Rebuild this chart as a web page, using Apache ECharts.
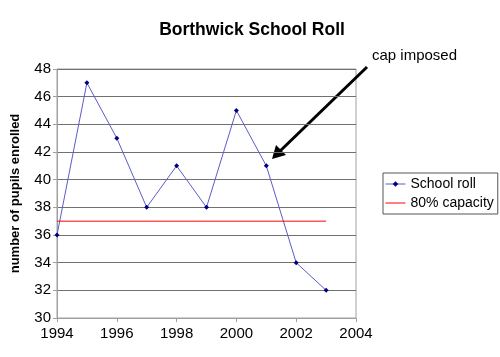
<!DOCTYPE html>
<html><head><meta charset="utf-8">
<script src="https://cdn.jsdelivr.net/npm/echarts@6/dist/echarts.min.js"></script>
<style>html,body{margin:0;padding:0;background:#fff}#c{width:500px;height:357px}</style>
</head><body><div id="c"></div>
<script>
const years = [1994, 1995, 1996, 1997, 1998, 1999, 2000, 2001, 2002, 2003];
const schoolRoll = [36, 47, 43, 38, 41, 38, 45, 41, 34, 32];
const capacityYears = [1994, 2003];
const capacity = [37, 37];
const xTicks = {min: 1994, max: 2004, interval: 2};
const yTicks = {min: 30, max: 48, interval: 2};

const chart = echarts.init(document.getElementById('c'), null, {renderer: 'canvas'});
const font = 'Liberation Sans, Arial, sans-serif';
chart.setOption({
  animation: false,
  backgroundColor: '#fff',
  title: {
    text: 'Borthwick School Roll', left: 247, top: 16, textAlign: 'center',
    textStyle: {fontFamily: font, fontSize: 17.5, fontWeight: 'bold', color: '#000'}
  },
  grid: {left: 57, right: 144, top: 69, bottom: 39, show: true, borderColor: '#a0a0a0', borderWidth: 1},
  legend: {
    orient: 'vertical', left: 383, top: 173, itemGap: 5, padding: [4, 4, 4, 2],
    borderColor: '#555', borderWidth: 1, itemWidth: 20, itemHeight: 7,
    textStyle: {fontFamily: font, fontSize: 14, color: '#000'},
    lineStyle: {width: 1},
    data: [
      {name: 'School roll'},
      {name: '80% capacity', itemStyle: {opacity: 0}}
    ]
  },
  xAxis: {
    type: 'value', min: xTicks.min, max: xTicks.max, interval: xTicks.interval,
    axisLine: {lineStyle: {color: '#a0a0a0'}},
    axisTick: {show: true, length: 4, lineStyle: {color: '#a0a0a0'}},
    splitLine: {show: false},
    axisLabel: {fontFamily: font, fontSize: 15, color: '#000', margin: 8, formatter: v => String(v)}
  },
  yAxis: {
    type: 'value', min: yTicks.min, max: yTicks.max, interval: yTicks.interval,
    name: 'number of pupils enrolled', nameLocation: 'middle', nameGap: 35,
    nameTextStyle: {fontFamily: font, fontSize: 13, fontWeight: 'bold', color: '#000'},
    axisLine: {show: true, lineStyle: {color: '#a0a0a0'}},
    axisTick: {show: true, length: 4, lineStyle: {color: '#a0a0a0'}},
    splitLine: {show: true, lineStyle: {color: '#707070', width: 1}},
    axisLabel: {fontFamily: font, fontSize: 15, color: '#000', margin: 6}
  },
  series: [
    {
      name: 'School roll', type: 'line',
      data: years.map((y, i) => [y, schoolRoll[i]]),
      symbol: 'diamond', symbolSize: 5,
      lineStyle: {color: '#5c5cc8', width: 1},
      itemStyle: {color: '#000080'}
    },
    {
      name: '80% capacity', type: 'line',
      data: capacityYears.map((y, i) => [y, capacity[i]]),
      symbol: 'none',
      lineStyle: {color: '#ff0000', width: 1},
      itemStyle: {color: '#ff0000'}
    }
  ],
  graphic: [
    {type: 'text', left: 372, top: 48, style: {text: 'cap imposed', fontFamily: font, fontSize: 15, fill: '#000'}},
    {type: 'line', shape: {x1: 367, y1: 67, x2: 278, y2: 153}, style: {stroke: '#000', lineWidth: 3}},
    {type: 'polygon', shape: {points: [[272, 159], [276, 145], [286, 155]]}, style: {fill: '#000'}}
  ]
});
</script></body></html>
